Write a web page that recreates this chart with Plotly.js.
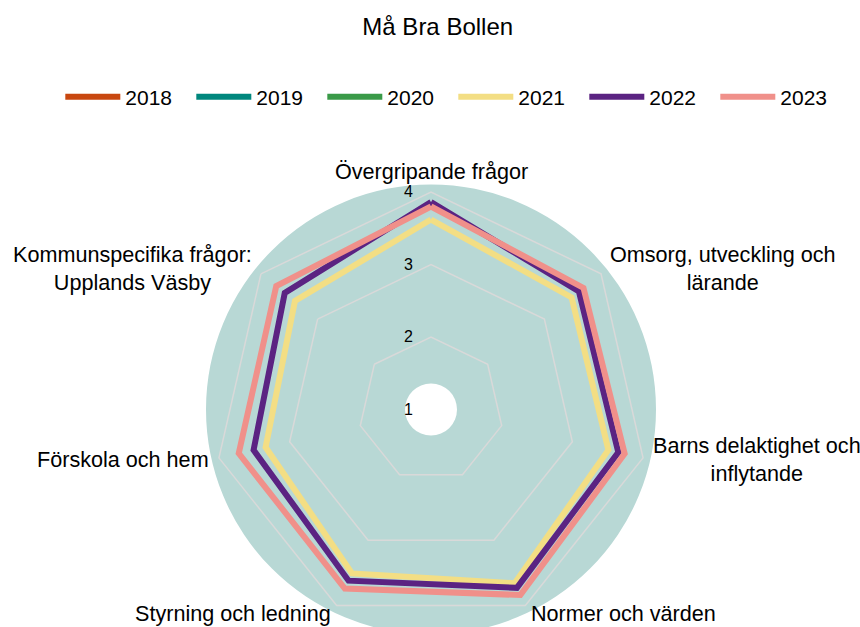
<!DOCTYPE html>
<html>
<head>
<meta charset="utf-8">
<script src="https://cdn.plot.ly/plotly-3.0.1.min.js"></script>
<style>html,body{margin:0;padding:0;background:#fff}#chart{width:860px;height:627px}</style>
</head>
<body>
<div id="chart"></div>
<script>
const categories = [
  "Övergripande frågor",
  "Omsorg, utveckling och<br>lärande",
  "Barns delaktighet och<br>inflytande",
  "Normer och värden",
  "Styrning och ledning",
  "Förskola och hem",
  "Kommunspecifika frågor:<br>Upplands Väsby"
];
const years = ["2018", "2019", "2020", "2021", "2022", "2023"];
const values2018 = [null, null, null, null, null, null, null];
const values2019 = [null, null, null, null, null, null, null];
const values2020 = [null, null, null, null, null, null, null];
const values2021 = [3.62, 3.48, 3.51, 3.66, 3.51, 3.34, 3.40];
const values2022 = [3.86, 3.61, 3.65, 3.73, 3.62, 3.51, 3.58];
const values2023 = [3.80, 3.69, 3.74, 3.84, 3.74, 3.72, 3.73];
const colors = ["#c8470f", "#00877d", "#3a9a48", "#f3de84", "#5b2382", "#f0908a"];
const radialTicks = [1, 2, 3, 4];

const series = [values2018, values2019, values2020, values2021, values2022, values2023];
const font = "'Liberation Sans', Arial, sans-serif";

// geometry of the plot area (pixels)
const W = 860, H = 627, ML = 2, MR = 0, MT = 192, MB = 0;
const PW = W - ML - MR, PH = H - MT - MB;
const CX = ML + PW / 2, CY = MT + PH / 2, R = Math.min(PW, PH) / 2;
const px2x = p => (p - ML) / PW;
const px2y = p => (H - MB - p) / PH;

const traces = years.map((y, i) => ({
  type: "scatterpolar",
  mode: "lines",
  name: y,
  r: series[i].concat([series[i][0]]),
  theta: categories.concat([categories[0]]),
  line: {color: colors[i], width: 6},
  hoverinfo: "skip"
}));

// category labels placed around the polygon, centred multi-line text
const labelR = R + 8.5;
const annotations = categories.map((c, i) => {
  const a = (90 - i * 360 / categories.length) * Math.PI / 180;
  const cs = Math.cos(a), sn = Math.sin(a);
  const ax = CX + labelR * cs, ay = CY - labelR * sn;
  let xanchor = "center", yanchor = "middle", yshift = 0;
  if (Math.abs(cs) < 0.1) { yanchor = sn > 0 ? "bottom" : "top"; yshift = -3; }
  else { xanchor = cs > 0 ? "left" : "right"; }
  return {text: c, xref: "paper", yref: "paper", x: px2x(ax), y: px2y(ay),
          xanchor, yanchor, yshift, align: "center", showarrow: false,
          font: {family: font, size: 21.6, color: "#000"}};
});

const bgR = R + 7.5, holeR = 26;
const layout = {
  width: W, height: H,
  paper_bgcolor: "#ffffff",
  font: {family: font, size: 21, color: "#000"},
  margin: {l: ML, r: MR, t: MT, b: MB},
  title: {text: "Må Bra Bollen", font: {family: font, size: 24, color: "#000"},
          x: 0.509, xanchor: "center", y: 0.957, yanchor: "middle", yref: "container"},
  showlegend: true,
  legend: {orientation: "h", x: 0.526, xanchor: "center", y: 1.218, yanchor: "middle",
           font: {family: font, size: 21, color: "#000"}, itemwidth: 55, entrywidth: 61,
           traceorder: "normal", bgcolor: "rgba(0,0,0,0)"},
  annotations: annotations,
  shapes: [
    {type: "circle", xref: "paper", yref: "paper", layer: "below",
     x0: px2x(CX - bgR), x1: px2x(CX + bgR), y0: px2y(CY + bgR), y1: px2y(CY - bgR),
     fillcolor: "#b8d8d5", line: {width: 0}},
    {type: "circle", xref: "paper", yref: "paper", layer: "below",
     x0: px2x(CX - holeR), x1: px2x(CX + holeR), y0: px2y(CY + holeR), y1: px2y(CY - holeR),
     fillcolor: "#ffffff", line: {width: 0}}
  ],
  polar: {
    domain: {x: [0, 1], y: [0, 1]},
    bgcolor: "rgba(0,0,0,0)",
    gridshape: "linear",
    radialaxis: {
      range: [1, 4], tickvals: radialTicks, ticktext: radialTicks.map(String),
      angle: 90, side: "counterclockwise", tickangle: 90,
      showline: false, ticks: "outside", ticklen: 12, tickcolor: "rgba(0,0,0,0)",
      gridcolor: "#d9d9d9", gridwidth: 1.5,
      tickfont: {family: font, size: 16, color: "#000"}
    },
    angularaxis: {
      type: "category", rotation: 90, direction: "clockwise",
      showgrid: false, showline: true, linecolor: "#d9d9d9", linewidth: 1.5,
      ticks: "", showticklabels: false
    }
  }
};

Plotly.newPlot("chart", traces, layout, {displayModeBar: false, staticPlot: true});
</script>
</body>
</html>
